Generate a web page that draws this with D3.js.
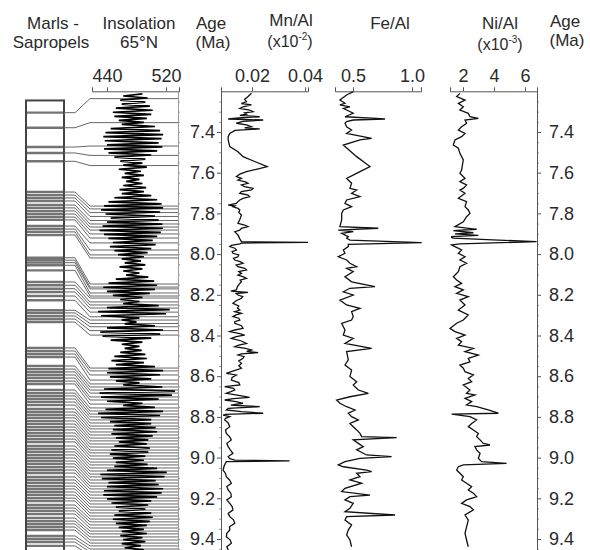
<!DOCTYPE html>
<html><head><meta charset="utf-8">
<script src="https://cdn.jsdelivr.net/npm/d3@7"></script>
<style>
body{margin:0;background:#fff}
text{font-family:"Liberation Sans",Arial,sans-serif;fill:#2a2a2a}
</style>
</head><body>
<svg id="c" width="590" height="550"></svg>
<script>
// ---------- DATA ----------
const ageTicks = [7.4, 7.6, 7.8, 8.0, 8.2, 8.4, 8.6, 8.8, 9.0, 9.2, 9.4];
const ageMinor = [7.25,7.3,7.35,7.45,7.5,7.55,7.65,7.7,7.75,7.85,7.9,7.95,8.05,8.1,8.15,8.25,8.3,8.35,
                  8.45,8.5,8.55,8.65,8.7,8.75,8.85,8.9,8.95,9.05,9.1,9.15,9.25,9.3,9.35,9.45];
const insTicks = [440, 520];
const mnTicks = [0.02, 0.04];
const feTicks = [0.5, 1.0];
const niTicks = [2, 4, 6];

// Insolation 65°N (W/m2), sampled every 0.01 Ma from 7.213 Ma
const insStart = 7.213, insStep = 0.01;
const insolation = [
 488,462,495,458,492,460,
 498,452,502,448,500,450,494,456,490,460,
 505,445,512,438,516,435,514,437,510,440,515,436,508,442,500,450,
 492,458,488,462,494,456,486,464,490,460,484,466,488,462,493,457,490,460,
 500,450,508,442,514,436,516,432,512,438,505,445,510,440,515,434,516,430,513,436,508,442,502,448,
 506,444,500,450,495,455,
 490,460,486,464,492,457,488,462,484,466,
 496,452,504,442,508,435,505,440,498,448,
 488,458,484,462,
 510,440,525,428,520,432,
 484,460,480,464,
 505,440,516,431,512,434,500,445,
 488,460,484,464,487,458,
 492,450,494,446,490,452,
 505,442,516,440,512,444,500,452,
 484,462,
 515,436,532,430,528,432,510,440,
 488,462,
 505,438,516,428,512,432,500,444,
 500,450,506,448,508,446,502,452,496,456,
 494,450,498,446,496,444,492,448,490,452,495,450,
 508,440,521,431,518,433,506,442,
 510,440,516,436,514,435,508,440,500,446,
 496,452,492,456,
 500,450,502,448,498,452,494,456,
 490,460,494,458,488,462,492,460,486,464,490,460
];

// Sapropels: position in the log (age model, Ma) and tuned insolation age (Ma)
const sapColumn = [
 7.305,7.379,
 7.474,7.503,7.544,
 7.695,7.710,7.724,7.739,7.759,7.773,7.788,7.803,7.818,7.832,7.862,7.877,7.891,7.906,
 8.018,8.030,8.042,8.055,8.080,8.137,8.153,8.170,8.186,8.206,8.227,8.276,8.289,8.304,8.319,8.334,
 8.461,8.476,8.491,8.506,8.550,8.565,8.579,8.594,8.609,8.624,8.638,8.668,8.683,8.697,8.712,8.727,
 8.742,8.761,8.776,8.791,8.805,8.820,8.835,8.850,8.864,8.879,8.894,8.909,8.923,8.943,8.958,8.972,
 8.987,9.002,9.017,9.031,9.046,9.061,9.076,9.095,9.110,9.125,9.140,9.154,9.169,9.184,9.199,9.213,
 9.233,9.248,9.262,9.277,9.297,9.312,9.326,9.341,9.356,9.385,9.400,9.415,9.434
];
const sapInsolation = [
 7.236,7.354,
 7.469,7.515,7.565,
 7.764,7.778,7.796,7.815,7.835,7.852,7.867,7.882,7.901,7.921,7.945,7.980,8.004,8.019,
 8.147,8.162,8.171,8.191,8.206,8.216,8.235,8.250,8.265,8.285,8.308,8.324,8.341,8.357,8.376,8.398,
 8.560,8.574,8.594,8.619,8.638,8.653,8.668,8.683,8.702,8.717,8.737,8.756,8.771,8.786,8.800,8.815,
 8.830,8.845,8.859,8.874,8.889,8.904,8.918,8.933,8.948,8.963,8.977,8.992,9.007,9.022,9.036,9.051,
 9.066,9.081,9.095,9.110,9.125,9.140,9.154,9.169,9.184,9.199,9.213,9.228,9.243,9.258,9.272,9.287,
 9.302,9.316,9.331,9.346,9.361,9.375,9.390,9.405,9.420,9.434,9.449,9.464,9.479
];

// Mn/Al [age Ma, value]
const mnAl = [
[7.210,0.0198],[7.226,0.0185],[7.240,0.0172],[7.251,0.0179],[7.260,0.0160],[7.267,0.0198],[7.276,0.0166],
[7.284,0.0154],[7.292,0.0191],[7.300,0.0204],[7.306,0.0172],[7.312,0.0179],[7.318,0.0154],[7.325,0.0229],
[7.330,0.0160],[7.336,0.0110],[7.341,0.0242],[7.348,0.0166],[7.357,0.0141],[7.365,0.0179],[7.374,0.0198],
[7.380,0.0172],[7.385,0.0229],[7.392,0.0135],[7.398,0.0128],[7.407,0.0116],[7.423,0.0110],[7.439,0.0110],
[7.455,0.0113],[7.472,0.0116],[7.497,0.0147],[7.521,0.0166],[7.545,0.0210],[7.570,0.0257],[7.582,0.0220],
[7.595,0.0179],[7.607,0.0154],[7.619,0.0141],[7.628,0.0160],[7.636,0.0147],[7.645,0.0175],[7.652,0.0185],
[7.660,0.0160],[7.669,0.0172],[7.677,0.0204],[7.685,0.0198],[7.693,0.0160],[7.701,0.0154],[7.710,0.0185],
[7.718,0.0191],[7.726,0.0166],[7.734,0.0154],[7.742,0.0147],[7.751,0.0141],[7.759,0.0110],[7.763,0.0135],
[7.767,0.0128],[7.775,0.0147],[7.783,0.0154],[7.795,0.0150],[7.808,0.0160],[7.830,0.0154],[7.849,0.0147],
[7.857,0.0172],[7.865,0.0185],[7.873,0.0160],[7.882,0.0154],[7.890,0.0135],[7.898,0.0141],[7.906,0.0147],
[7.914,0.0150],[7.925,0.0154],[7.939,0.0160],[7.942,0.0411],[7.946,0.0160],[7.950,0.0154],[7.957,0.0122],
[7.963,0.0116],[7.971,0.0135],[7.980,0.0141],[7.988,0.0125],[7.996,0.0128],[8.004,0.0150],[8.013,0.0147],
[8.021,0.0130],[8.029,0.0135],[8.037,0.0155],[8.045,0.0166],[8.054,0.0140],[8.062,0.0147],[8.070,0.0172],
[8.078,0.0179],[8.086,0.0150],[8.095,0.0160],[8.103,0.0147],[8.111,0.0165],[8.119,0.0179],[8.128,0.0155],
[8.136,0.0160],[8.144,0.0154],[8.160,0.0145],[8.176,0.0141],[8.182,0.0120],[8.188,0.0185],[8.194,0.0140],
[8.201,0.0147],[8.209,0.0165],[8.217,0.0160],[8.229,0.0140],[8.242,0.0128],[8.255,0.0150],[8.265,0.0145],
[8.275,0.0154],[8.283,0.0135],[8.291,0.0160],[8.299,0.0140],[8.307,0.0128],[8.315,0.0150],[8.324,0.0154],
[8.332,0.0135],[8.340,0.0135],[8.352,0.0160],[8.365,0.0166],[8.373,0.0135],[8.381,0.0116],[8.390,0.0150],
[8.398,0.0172],[8.406,0.0140],[8.414,0.0122],[8.427,0.0160],[8.439,0.0179],[8.447,0.0150],[8.455,0.0135],
[8.463,0.0175],[8.471,0.0198],[8.478,0.0180],[8.484,0.0223],[8.490,0.0160],[8.496,0.0147],[8.504,0.0170],
[8.512,0.0166],[8.525,0.0150],[8.537,0.0160],[8.549,0.0150],[8.561,0.0160],[8.574,0.0130],[8.586,0.0103],
[8.594,0.0141],[8.606,0.0125],[8.619,0.0122],[8.631,0.0150],[8.643,0.0154],[8.651,0.0097],[8.660,0.0130],
[8.668,0.0135],[8.676,0.0120],[8.684,0.0103],[8.694,0.0150],[8.704,0.0191],[8.710,0.0130],[8.717,0.0097],
[8.725,0.0140],[8.733,0.0166],[8.742,0.0120],[8.750,0.0229],[8.758,0.0110],[8.766,0.0103],[8.774,0.0160],
[8.782,0.0242],[8.788,0.0100],[8.791,0.0091],[8.799,0.0116],[8.807,0.0100],[8.815,0.0097],[8.830,0.0110],
[8.848,0.0116],[8.864,0.0100],[8.881,0.0103],[8.897,0.0115],[8.913,0.0122],[8.930,0.0105],[8.946,0.0110],
[8.962,0.0118],[8.979,0.0128],[8.995,0.0110],[9.005,0.0116],[9.012,0.0135],[9.016,0.0342],[9.020,0.0103],
[9.040,0.0095],[9.061,0.0091],[9.078,0.0100],[9.094,0.0103],[9.110,0.0115],[9.126,0.0122],[9.142,0.0105],
[9.159,0.0110],[9.175,0.0120],[9.192,0.0122],[9.208,0.0105],[9.225,0.0116],[9.241,0.0125],[9.257,0.0128],
[9.274,0.0110],[9.290,0.0116],[9.306,0.0130],[9.323,0.0135],[9.340,0.0115],[9.356,0.0116],[9.372,0.0105],
[9.389,0.0103],[9.405,0.0118],[9.421,0.0122],[9.438,0.0105],[9.454,0.0110]
];

// Fe/Al [age Ma, value]
const feAl = [
[7.202,0.502],[7.218,0.446],[7.243,0.389],[7.259,0.432],[7.267,0.389],[7.276,0.474],[7.284,0.418],
[7.292,0.446],[7.308,0.502],[7.325,0.432],[7.336,0.771],[7.341,0.502],[7.349,0.446],[7.357,0.432],
[7.374,0.446],[7.390,0.488],[7.407,0.446],[7.431,0.658],[7.439,0.559],[7.464,0.418],[7.521,0.531],
[7.570,0.644],[7.595,0.559],[7.628,0.446],[7.652,0.488],[7.677,0.474],[7.685,0.531],[7.701,0.488],
[7.718,0.559],[7.734,0.446],[7.751,0.432],[7.767,0.488],[7.783,0.418],[7.800,0.404],[7.832,0.404],
[7.865,0.389],[7.873,0.714],[7.882,0.375],[7.890,0.502],[7.898,0.404],[7.914,0.460],[7.922,0.446],
[7.931,0.474],[7.944,1.082],[7.952,0.460],[7.963,0.460],[7.980,0.418],[7.996,0.432],[8.013,0.375],
[8.029,0.446],[8.045,0.474],[8.062,0.531],[8.070,0.446],[8.086,0.502],[8.111,0.432],[8.136,0.488],
[8.160,0.686],[8.168,0.474],[8.185,0.418],[8.201,0.502],[8.226,0.389],[8.250,0.446],[8.267,0.559],
[8.283,0.488],[8.307,0.502],[8.324,0.488],[8.340,0.404],[8.373,0.432],[8.398,0.418],[8.414,0.502],
[8.439,0.432],[8.463,0.658],[8.479,0.446],[8.520,0.460],[8.545,0.432],[8.570,0.488],[8.602,0.474],
[8.627,0.531],[8.643,0.502],[8.668,0.545],[8.684,0.630],[8.701,0.474],[8.717,0.361],[8.733,0.389],
[8.750,0.446],[8.766,0.517],[8.782,0.460],[8.799,0.488],[8.815,0.545],[8.832,0.474],[8.848,0.502],
[8.864,0.531],[8.881,0.559],[8.897,0.573],[8.902,0.870],[8.913,0.502],[8.930,0.545],[8.946,0.587],
[8.962,0.531],[8.987,0.615],[8.995,0.827],[9.004,0.559],[9.020,0.432],[9.036,0.375],[9.045,0.418],
[9.061,0.615],[9.069,0.658],[9.077,0.531],[9.094,0.559],[9.110,0.474],[9.126,0.573],[9.151,0.432],
[9.167,0.404],[9.184,0.644],[9.192,0.474],[9.208,0.432],[9.225,0.502],[9.249,0.474],[9.266,0.432],
[9.282,0.856],[9.290,0.446],[9.307,0.432],[9.331,0.488],[9.356,0.460],[9.380,0.446],[9.405,0.474],
[9.438,0.488]
];

// Ni/Al [age Ma, value]
const niAl = [
[7.210,1.80],[7.226,1.59],[7.243,2.13],[7.259,1.70],[7.276,2.02],[7.292,1.80],[7.308,2.34],[7.325,2.45],
[7.333,2.99],[7.341,2.13],[7.357,2.23],[7.374,1.91],[7.390,1.70],[7.407,2.13],[7.423,1.91],[7.439,1.48],
[7.464,1.375],[7.480,1.70],[7.505,1.80],[7.537,2.02],[7.554,1.98],[7.587,1.91],[7.603,1.80],[7.628,2.13],
[7.644,1.80],[7.660,2.23],[7.677,2.02],[7.685,1.80],[7.701,2.13],[7.726,1.70],[7.742,2.23],[7.767,2.13],
[7.783,2.34],[7.800,2.45],[7.816,2.23],[7.841,2.02],[7.865,1.48],[7.878,2.88],[7.885,1.375],[7.895,2.67],
[7.901,1.48],[7.908,2.99],[7.914,1.27],[7.919,1.27],[7.922,1.375],[7.939,6.75],[7.950,1.80],[7.955,1.27],
[7.963,1.48],[7.980,1.91],[7.996,1.70],[8.013,2.13],[8.029,1.80],[8.045,2.23],[8.062,1.80],[8.086,1.70],
[8.111,1.375],[8.127,1.59],[8.144,1.91],[8.160,1.48],[8.176,2.02],[8.193,1.59],[8.209,2.34],[8.226,1.80],
[8.250,2.13],[8.275,1.70],[8.299,2.34],[8.324,2.02],[8.340,1.59],[8.365,1.16],[8.381,1.48],[8.398,2.13],
[8.414,1.59],[8.430,1.91],[8.447,1.70],[8.463,2.67],[8.479,2.13],[8.496,2.99],[8.512,2.34],[8.529,2.45],
[8.545,1.80],[8.561,2.02],[8.578,2.13],[8.594,2.67],[8.611,2.34],[8.627,2.56],[8.643,2.02],[8.668,2.45],
[8.684,2.23],[8.692,2.77],[8.709,2.13],[8.725,2.56],[8.741,2.23],[8.750,2.88],[8.766,3.63],[8.782,4.28],
[8.786,1.27],[8.799,2.45],[8.815,2.88],[8.832,2.56],[8.848,2.34],[8.864,2.67],[8.881,2.99],[8.897,2.88],
[8.913,3.10],[8.930,3.31],[8.938,3.74],[8.946,2.77],[8.962,2.88],[8.979,3.10],[9.004,2.99],[9.020,3.20],
[9.028,4.81],[9.036,2.02],[9.045,1.70],[9.061,1.59],[9.077,1.80],[9.094,2.02],[9.110,1.91],[9.126,2.23],
[9.143,2.56],[9.159,2.34],[9.175,2.67],[9.192,2.88],[9.208,2.23],[9.225,1.91],[9.241,2.45],[9.257,2.67],
[9.282,2.13],[9.307,2.34],[9.340,2.23],[9.372,2.13],[9.405,2.23],[9.438,2.34]
];

// ---------- CHART ----------
const svg = d3.select("#c");
const axisCol = "#555";
const FONT = '"Liberation Sans",Arial,sans-serif';
const y = d3.scaleLinear().domain([7.2, 9.5]).range([91.3, 559.35]);
const xIns = d3.scaleLinear().domain([419.7, 537.6]).range([92, 179]);
const xMn = d3.scaleLinear().domain([0.0083, 0.0411]).range([221, 308]);
const xFe = d3.scaleLinear().domain([0.3475, 1.076]).range([335, 421]);
const xNi = d3.scaleLinear().domain([1.161, 6.774]).range([450, 537]);
const colX0 = 26, colX1 = 64, bendX0 = 75, bendX1 = 90;
const yTop = y(7.2);

// header text
const head = [
  ["Marls -", 53, 29], ["Sapropels", 51, 48],
  ["Insolation", 139, 29], ["65°N", 139, 48],
  ["Age", 211, 29], ["(Ma)", 213, 48],
  ["Mn/Al", 291, 26], ["Fe/Al", 390, 29], ["Ni/Al", 500, 29],
  ["Age", 565, 27], ["(Ma)", 567, 46]
];
svg.selectAll("text.head").data(head).join("text").attr("class","head")
  .attr("x", d => d[1]).attr("y", d => d[2]).attr("text-anchor","middle")
  .attr("font-size", 17).text(d => d[0]);
function expLabel(cx, cy, exp){
  const t = svg.append("text").attr("x", cx).attr("y", cy).attr("text-anchor","middle").attr("font-size", 16);
  t.append("tspan").text("(x10");
  t.append("tspan").attr("font-size", 10).attr("dy", -7).text(exp);
  t.append("tspan").attr("dy", 7).text(")");
}
expLabel(290, 47, "-2");
expLabel(500, 50, "-3");

// top axes
function topAxis(scale, ticks, fmt){
  const g = svg.append("g").attr("transform", `translate(0,${yTop})`)
    .call(d3.axisTop(scale).tickValues(ticks).tickSizeOuter(0).tickSize(4).tickPadding(5).tickFormat(fmt));
  g.select(".domain").attr("stroke", axisCol);
  g.selectAll(".tick line").attr("stroke", axisCol);
  g.selectAll("text").attr("font-size", 18).attr("fill", "#2a2a2a").attr("font-family", FONT);
  return g;
}
topAxis(xIns, insTicks, d3.format("d"));
topAxis(xMn, mnTicks, d3.format(".2f"));
topAxis(xFe, feTicks, d3.format(".1f"));
topAxis(xNi, niTicks, d3.format("d"));

// vertical age axes
function ageAxis(x, orient){
  const mk = () => orient === "left" ? d3.axisLeft(y) : d3.axisRight(y);
  const gMinor = svg.append("g").attr("transform", `translate(${x},0)`)
    .call(mk().tickValues(ageMinor).tickSize(2).tickFormat(""));
  gMinor.select(".domain").remove();
  gMinor.selectAll("line").attr("stroke", "#999");
  const g = svg.append("g").attr("transform", `translate(${x},0)`)
    .call(mk().tickValues(ageTicks).tickSize(4).tickSizeOuter(0)
      .tickPadding(orient === "left" ? 2 : 8).tickFormat(d3.format(".1f")));
  g.select(".domain").attr("stroke", axisCol);
  g.selectAll(".tick line").attr("stroke", axisCol);
  g.selectAll("text").attr("font-size", 18).attr("fill", "#2a2a2a").attr("font-family", FONT);
}
ageAxis(xMn.range()[0], "left");
ageAxis(xNi.range()[1], "right");
// insolation right frame line with minor ticks
const gIr = svg.append("g").attr("transform", `translate(${xIns.range()[1]-1},0)`)
  .call(d3.axisRight(y).tickValues(ageMinor.concat(ageTicks)).tickSize(2).tickSizeOuter(0).tickFormat(""));
gIr.select(".domain").attr("stroke", "#999");
gIr.selectAll("line").attr("stroke", "#999");

// lithological column
svg.append("rect").attr("x", colX0).attr("y", y(7.245)).attr("width", colX1 - colX0).attr("height", 600)
  .attr("fill", "#fff").attr("stroke", "#444").attr("stroke-width", 2);
svg.append("g").selectAll("line").data(sapColumn).join("line")
  .attr("x1", colX0 + 1).attr("x2", colX1 - 1).attr("y1", d => y(d)).attr("y2", d => y(d))
  .attr("stroke", "#747474").attr("stroke-width", 2.4);
// tie lines
const tie = d3.line();
svg.append("g").selectAll("path").data(d3.zip(sapColumn, sapInsolation)).join("path")
  .attr("d", d => tie([[colX1, y(d[0])], [bendX0, y(d[0])], [bendX1, y(d[1])], [xIns.range()[1] - 1, y(d[1])]]))
  .attr("fill", "none").attr("stroke", "#666").attr("stroke-width", 1);

// insolation curve
const insPts = insolation.map((v, i) => [insStart + i * insStep, v]);
svg.append("path").datum(insPts)
  .attr("d", d3.line().x(d => xIns(d[1])).y(d => y(d[0])))
  .attr("fill", "none").attr("stroke", "#000").attr("stroke-width", 1.7).attr("stroke-linejoin", "miter");

// geochemical curves
function curve(data, xs){
  svg.append("path").datum(data)
    .attr("d", d3.line().x(d => xs(d[1])).y(d => y(d[0])))
    .attr("fill", "none").attr("stroke", "#111").attr("stroke-width", 1.3);
}
curve(mnAl, xMn);
curve(feAl, xFe);
curve(niAl, xNi);
</script>
</body></html>
